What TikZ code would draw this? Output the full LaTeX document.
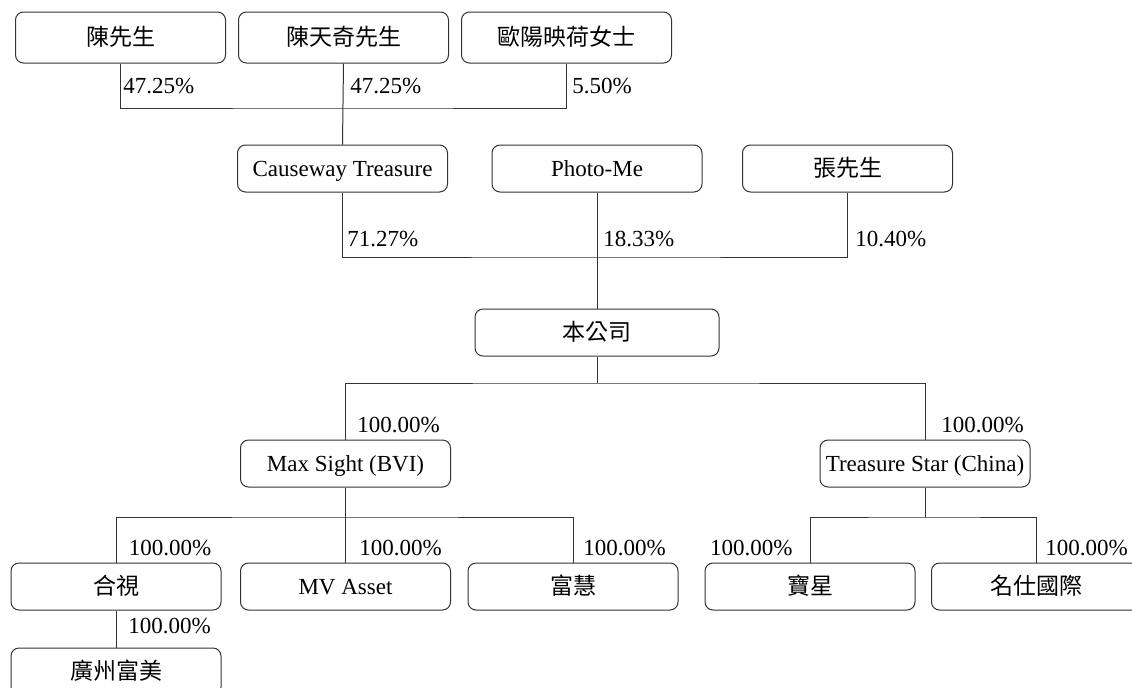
\documentclass[tikz,border=0pt]{standalone}
\usepackage{fontspec}
\setmainfont{Liberation Serif}
\newfontfamily\cjk{Noto Sans CJK TC}
\usetikzlibrary{positioning}
\tikzset{%
    nodesty/.style={
        rounded corners=4pt,
        draw=black!80,
        line width=0.5pt,
        align=center,
        inner sep=0pt,
        text height=9.5pt,
        text depth=1.5pt,
        minimum height=23.5pt,
        minimum width=105pt,
        font=\fontsize{11.5}{13}\selectfont,
    },
    tnodesty/.style={
        nodesty,
        minimum height=25.5pt,
    },
    wnodesty/.style={
        nodesty,
        minimum width=122pt,
    },
    pctsty/.style={
        anchor=base west,
        inner sep=0pt,
        font=\fontsize{11.5}{13}\selectfont,
    },
    linesty/.style={
        draw=black!80,
        line width=0.5pt,
    },
}

\begin{document}
\begin{tikzpicture}[x=0.5pt,y=-0.5pt]
\useasboundingbox (0,0) rectangle (1132,687);
\clip (0,0) rectangle (1132,687);

% owners of Causeway Treasure
\node (own1) [tnodesty] at (120.5,37.5) {\cjk 陳先生};
\node (own2) [tnodesty,right=6pt of own1] {\cjk 陳天奇先生};
\node (own3) [tnodesty,right=6pt of own2] {\cjk 歐陽映荷女士};

% shareholders of the company
\node (sh1) [nodesty] at (342.5,168.5) {Causeway Treasure};
\node (sh2) [nodesty] at (597,168.5) {Photo-Me};
\node (sh3) [nodesty] at (847.5,168.5) {\cjk 張先生};

\node (comp) [wnodesty] at (597,332.5) {\cjk 本公司};

% subsidiaries
\node (sub1) [nodesty] at (345.5,463.5) {Max Sight (BVI)};
\node (sub2) [nodesty] at (925,463.5) {Treasure Star (China)};

\node (hs) [nodesty] at (116,586.5) {\cjk 合視};
\node (mv) [nodesty] at (345.5,586.5) {MV Asset};
\node (fh) [nodesty] at (573,586.5) {\cjk 富慧};
\node (bx) [nodesty] at (810,586.5) {\cjk 寶星};
\node (mj) [nodesty] at (1036.5,586.5) {\cjk 名仕國際};
\node (gz) [nodesty,below=18.5pt of hs] {\cjk 廣州富美};

% connectors
\coordinate (bus1) at (342.5,108);
\coordinate (bus2) at (597,257);
\coordinate (bus3) at (597,383);
\coordinate (bus4) at (345.5,517);
\coordinate (bus5) at (925,517);

\draw [linesty] (own1.south) |- (bus1) -| (own3.south);
\draw [linesty] (own2.south) -- (sh1.north);
\draw [linesty] (sh1.south) |- (bus2) -| (sh3.south);
\draw [linesty] (sh2.south) -- (comp.north);
\draw [linesty] (comp.south) -- (bus3);
\draw [linesty] (sub1.north) |- (bus3) -| (sub2.north);
\draw [linesty] (sub1.south) -- (mv.north);
\draw [linesty] (hs.north) |- (bus4) -| (fh.north);
\draw [linesty] (sub2.south) -- (bus5);
\draw [linesty] (bx.north) |- (bus5) -| (mj.north);
\draw [linesty] (hs.south) -- (gz.north);

% percentages
\node (pc1) [pctsty] at (123,93) {47.25\%};
\node (pc2) [pctsty] at (350,93) {47.25\%};
\node (pc3) [pctsty] at (572,93) {5.50\%};
\node (pc4) [pctsty] at (347,246) {71.27\%};
\node (pc5) [pctsty] at (603,246) {18.33\%};
\node (pc6) [pctsty] at (855,246) {10.40\%};
\node (pc7) [pctsty] at (357,432) {100.00\%};
\node (pc8) [pctsty] at (941,432) {100.00\%};
\node (pc9) [pctsty] at (128.5,555) {100.00\%};
\node (pc10) [pctsty] at (359,555) {100.00\%};
\node (pc11) [pctsty] at (583,555) {100.00\%};
\node (pc12) [pctsty,anchor=base east] at (793,555) {100.00\%};
\node (pc13) [pctsty] at (1045,555) {100.00\%};
\node (pc14) [pctsty] at (128,633) {100.00\%};

\end{tikzpicture}
\end{document}
